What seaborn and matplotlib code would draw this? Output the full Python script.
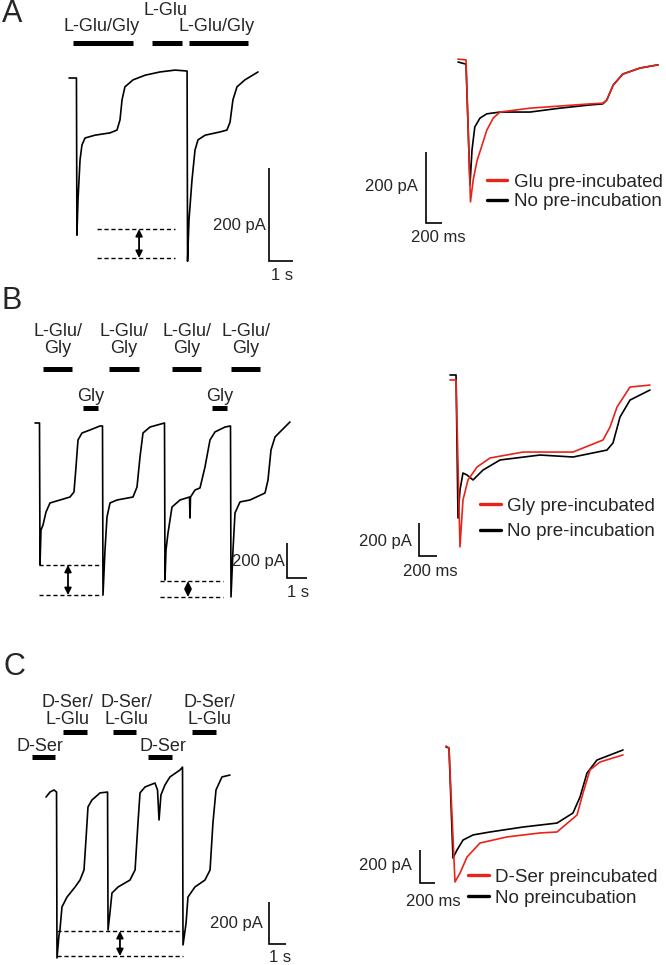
import matplotlib
matplotlib.use("Agg")
import seaborn as sns
import matplotlib.pyplot as plt

# ---- data: time (s) and current (pA, inward negative) ----

# A, left: L-Glu/Gly -> L-Glu -> L-Glu/Gly
a_t = [0, 0.31, 0.33, 0.375, 0.46, 0.54, 0.67, 1.08, 1.71, 2.0, 2.125, 2.21, 2.33, 2.67,
       3.17, 3.79, 4.42, 4.92, 4.94, 5.0, 5.125, 5.25, 5.375, 5.67, 6.29, 6.58, 6.71,
       6.83, 7.0, 7.33, 7.875]
a_i = [0, 0, -338, -262, -176, -144, -129, -123, -118, -112, -90, -47, -19, -4,
       6, 13, 17, 15, -394, -305, -219, -155, -133, -123, -116, -112, -95,
       -47, -19, -4, 13]
a_bar_on = [0.17, 3.46, 5.0]
a_bar_off = [2.67, 4.71, 7.46]
a_bar_txt = ["L-Glu/Gly", "L-Glu", "L-Glu/Gly"]
a_peaks = [-325, -387]

# A, right: overlay
ar_t_no = [0, 0.1, 0.15, 0.175, 0.21, 0.275, 0.36, 0.525, 0.9, 1.275, 1.65, 1.81, 1.86,
           1.94, 2.06, 2.275, 2.5]
ar_i_no = [0, -6, -346, -248, -183, -158, -146, -141, -141, -130, -121, -118, -107,
           -65, -34, -17, -8]
ar_t_pre = [0, 0.1, 0.156, 0.19, 0.24, 0.29, 0.36, 0.44, 0.525, 0.9, 1.275, 1.65, 1.81,
            1.86, 1.94, 2.06, 2.275, 2.5]
ar_i_pre = [8, 6, -394, -332, -276, -242, -192, -158, -141, -130, -124, -118, -116,
            -107, -65, -34, -17, -8]

# B, left: four L-Glu/Gly pulses, Gly pre-incubation before 2nd and 4th
b_t = [0, 0.225, 0.25, 0.3, 0.4, 0.55, 0.75, 1.25, 1.75, 1.95, 2.05, 2.15, 2.35, 2.75,
       3.25, 3.375, 3.4, 3.5, 3.6, 3.75, 4.1, 4.9, 5.1, 5.25, 5.4, 5.75, 6.475, 6.5,
       6.55, 6.65, 6.85, 7.25, 7.725, 7.75, 7.775, 8.0, 8.25, 8.5, 8.75, 9.0, 9.5,
       9.775, 9.8, 9.9, 10.0, 10.25, 10.75, 11.5, 11.65, 11.8, 12.0, 12.25, 12.75]
b_i = [0, 0, -811, -611, -583, -509, -457, -440, -423, -394, -251, -97, -57, -40,
       -17, -17, -983, -726, -537, -457, -440, -423, -366, -194, -57, -23, 0, -897,
       -726, -629, -480, -440, -423, -543, -423, -383, -371, -251, -97, -51, -23,
       -17, -994, -726, -514, -451, -440, -400, -326, -154, -80, -51, 6]
b_bar_on = [0.4, 3.7, 6.85, 9.8]
b_bar_off = [1.85, 5.2, 8.3, 11.25]
b_gly_on = [2.4, 8.85]
b_gly_off = [3.15, 9.6]
b_peaks_1 = [-811, -983]
b_peaks_2 = [-903, -994]

# B, right: overlay
br_t_no = [0, 0.067, 0.089, 0.111, 0.144, 0.189, 0.256, 0.367, 0.556, 1.0, 1.367, 1.744,
           1.811, 1.889, 2.0, 2.222]
br_i_no = [0, 0, -867, -697, -594, -606, -636, -576, -515, -485, -497, -455,
           -412, -255, -152, -91]
br_t_pre = [0, 0.067, 0.111, 0.144, 0.2, 0.3, 0.444, 0.811, 1.367, 1.7, 1.778, 1.856,
            2.0, 2.222]
br_i_pre = [-30, -30, -1042, -758, -636, -558, -503, -467, -467, -394, -315, -194,
            -73, -61]

# C, left: D-Ser pre-incubation, D-Ser/L-Glu pulses
c_t = [0, 0.235, 0.47, 0.62, 0.647, 0.765, 0.82, 0.94, 1.235, 1.71, 2.0, 2.235, 2.35,
       2.47, 2.7, 3.18, 3.62, 3.65, 3.76, 3.88, 4.24, 4.94, 5.24, 5.41, 5.53, 5.82,
       6.41, 6.56, 6.65, 6.76, 7.0, 7.29, 7.88, 8.03, 8.06, 8.24, 8.35, 8.76, 9.35,
       9.65, 9.82, 10.0, 10.35, 10.82]
c_i = [-10, 14, 24, 14, -776, -667, -643, -533, -486, -438, -405, -357, -214,
       -57, -24, 10, 14, -643, -562, -467, -438, -405, -357, -133, 10, 38,
       57, 24, -119, 0, 48, 86, 119, 133, -714, -610, -486, -438, -405,
       -357, -133, 24, 86, 95]
c_mix_on = [1.0, 3.94, 8.59]
c_mix_off = [2.41, 5.29, 10.0]
c_ser_on = [-0.82, 6.0]
c_ser_off = [0.53, 7.41]
c_peaks = [-648, -767]

# C, right: overlay
cr_t_no = [0, 0.04, 0.093, 0.147, 0.227, 0.36, 0.587, 1.027, 1.48, 1.693, 1.787, 1.88,
           2.013, 2.36]
cr_i_no = [0, -6, -673, -624, -564, -533, -515, -485, -461, -400, -303, -158, -79, -18]
cr_t_pre = [0, 0.04, 0.12, 0.187, 0.28, 0.453, 0.813, 1.253, 1.48, 1.747, 1.827, 1.92,
            2.053, 2.36]
cr_i_pre = [6, -6, -818, -764, -667, -582, -545, -521, -515, -412, -279, -139, -91, -48]

# ---- drawing ----
sns.set_theme(style="white")
plt.rcParams["font.family"] = ["Liberation Sans", "DejaVu Sans"]

W, H = 666, 965
fig = plt.figure(figsize=(W / 100, H / 100), dpi=100)
RED = "#e8241a"


def panel(x0, y0, sx, sy):
    # transparent full-figure axes; (0 s, 0 pA) sits at pixel (x0, y0)
    ax = fig.add_axes([0, 0, 1, 1])
    ax.set_xlim(-x0 / sx, (W - x0) / sx)
    ax.set_ylim((y0 - H) / sy, y0 / sy)
    ax.axis("off")
    ax.patch.set_alpha(0)
    return ax


def trace(ax, t, i, color="black", label=None, lw=1.2):
    sns.lineplot(x=t, y=i, ax=ax, color=color, lw=lw, sort=False,
                 estimator=None, label=label, legend=False)


def bars(ax, on, off, y):
    for a, b in zip(on, off):
        ax.plot([a, b], [y, y], color="black", lw=3.6, solid_capstyle="butt")


def scalebar(ax, t0, i0, dt, di, ylab, tlab, ylab_pos, tlab_pos):
    ax.plot([t0, t0, t0 + dt], [i0 + di, i0, i0], color="black", lw=1.2,
            solid_joinstyle="miter", solid_capstyle="butt")
    ax.text(*ylab_pos, ylab, ha="right", va="center", fontsize=12)
    ax.text(*tlab_pos, tlab, ha="center", va="center", fontsize=12)


def peak_diff(ax, t0, t1, levels, ta):
    for lv in levels:
        ax.plot([t0, t1], [lv, lv], color="black", lw=1.0, ls=(0, (3, 2)))
    ax.annotate("", xy=(ta, levels[0]), xytext=(ta, levels[1]),
                arrowprops=dict(arrowstyle="<|-|>", color="black", lw=1.3,
                                mutation_scale=10, shrinkA=0, shrinkB=0))


def overlay_legend(ax, anchor, labels, spacing):
    h = ax.get_lines()
    leg = ax.legend([h[1], h[0]], labels, loc="center left", bbox_to_anchor=anchor,
                    bbox_transform=ax.transData, frameon=False, fontsize=13.5,
                    handlelength=1.1, handletextpad=0.35, labelspacing=spacing,
                    borderpad=0, borderaxespad=0)
    for ln in leg.get_lines():
        ln.set_linewidth(2.4)


LAB = 13

# panel letters
for letter, (px, py) in {"A": (12, 14), "B": (12, 301), "C": (14, 667)}.items():
    fig.text(px / W, 1 - py / H, letter, fontsize=22, ha="center", va="center")

# A left
ax = panel(69, 78, 24, 0.465)
trace(ax, a_t, a_i)
bars(ax, a_bar_on, a_bar_off, 75)
for a, b, txt, y in zip(a_bar_on, a_bar_off, a_bar_txt, [110, 146, 110]):
    ax.text((a + b) / 2 - 0.08, y, txt, ha="center", va="center", fontsize=LAB)
peak_diff(ax, 1.17, 4.42, a_peaks, 2.92)
scalebar(ax, 8.33, -394, 1, 200, "200 pA", "1 s", (8.2, -318), (8.875, -424))

# A right
ax = panel(458, 62, 80, 0.355)
trace(ax, ar_t_no, ar_i_no, "black", "No pre-incubation")
trace(ax, ar_t_pre, ar_i_pre, RED, "Glu pre-incubated")
scalebar(ax, -0.4, -454, 0.2, 200, "200 pA", "200 ms", (-0.5, -352), (-0.25, -493))
overlay_legend(ax, (0.36, -366), ["Glu pre-incubated", "No pre-incubation"], 0.15)

# B left
ax = panel(35, 423, 20, 0.175)
trace(ax, b_t, b_i)
bars(ax, b_bar_on, b_bar_off, 309)
for a, b in zip(b_bar_on, b_bar_off):
    ax.text((a + b) / 2, 477, "L-Glu/\nGly", ha="center", va="center",
            fontsize=LAB, linespacing=1.0)
bars(ax, b_gly_on, b_gly_off, 86)
for a, b in zip(b_gly_on, b_gly_off):
    ax.text((a + b) / 2, 149, "Gly", ha="center", va="center", fontsize=LAB)
peak_diff(ax, 0.2, 3.35, b_peaks_1, 1.65)
peak_diff(ax, 6.25, 9.4, b_peaks_2, 7.65)
scalebar(ax, 12.6, -886, 1, 200, "200 pA", "1 s", (12.5, -794), (13.15, -971))

# B right
ax = panel(450, 375, 90, 0.165)
trace(ax, br_t_no, br_i_no, "black", "No pre-incubation")
trace(ax, br_t_pre, br_i_pre, RED, "Gly pre-incubated")
scalebar(ax, -0.344, -1097, 0.2, 200, "200 pA", "200 ms", (-0.422, -1012), (-0.222, -1188))
overlay_legend(ax, (0.333, -873), ["Gly pre-incubated", "No pre-incubation"], 0.45)

# C left
ax = panel(46, 795, 17, 0.21)
trace(ax, c_t, c_i)
bars(ax, c_mix_on, c_mix_off, 300)
for x in [1.29, 4.76, 9.59]:
    ax.text(x, 400, "D-Ser/\nL-Glu", ha="center", va="center", fontsize=LAB, linespacing=1.0)
bars(ax, c_ser_on, c_ser_off, 181)
for x in [-0.35, 6.88]:
    ax.text(x, 229, "D-Ser", ha="center", va="center", fontsize=LAB)
peak_diff(ax, 0.65, 8.06, c_peaks, 4.35)
scalebar(ax, 13.12, -710, 1, 200, "200 pA", "1 s", (12.76, -610), (13.76, -776))

# C right
ax = panel(446, 747, 75, 0.165)
trace(ax, cr_t_no, cr_i_no, "black", "No preincubation")
trace(ax, cr_t_pre, cr_i_pre, RED, "D-Ser preincubated")
scalebar(ax, -0.347, -824, 0.2, 200, "200 pA", "200 ms", (-0.453, -721), (-0.173, -939))
overlay_legend(ax, (0.293, -854), ["D-Ser preincubated", "No preincubation"], 0.2)

fig.savefig("out.png", dpi=100)
